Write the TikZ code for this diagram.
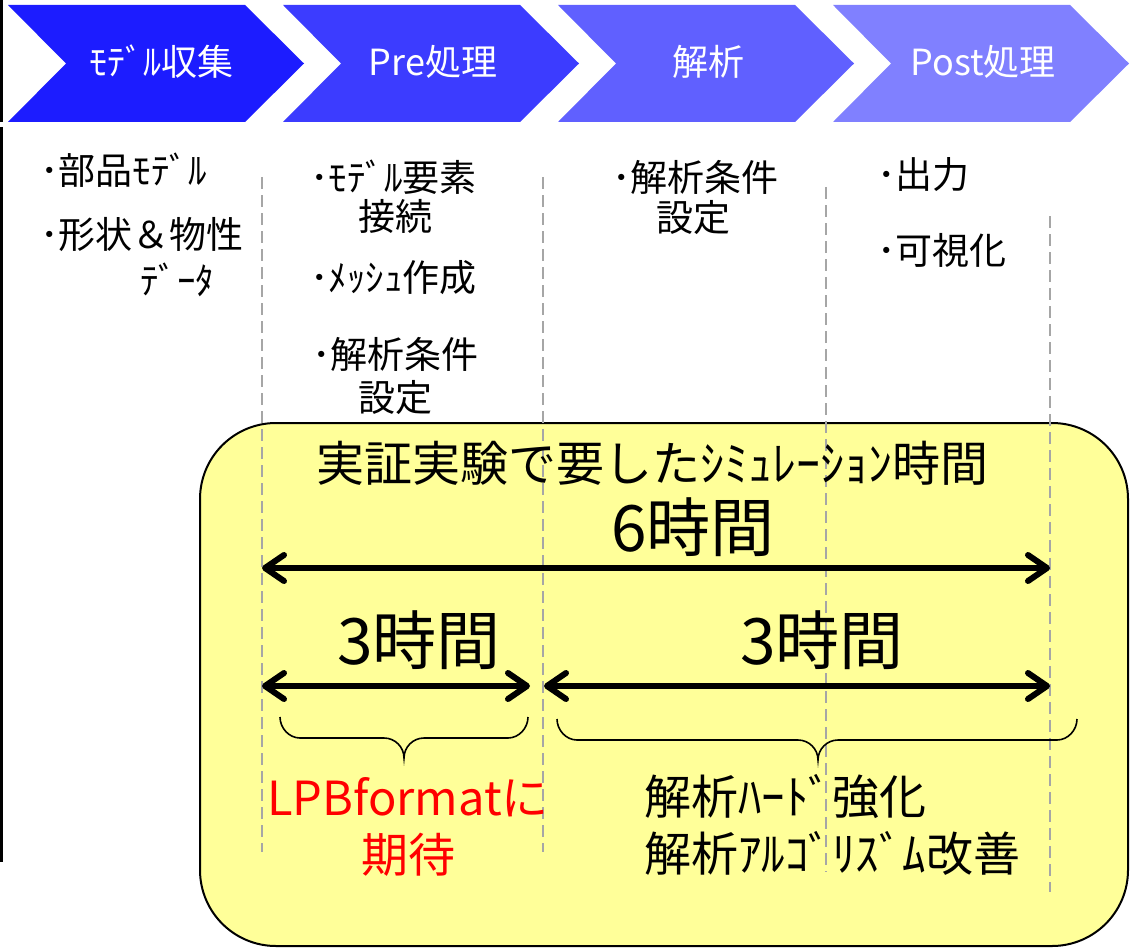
\documentclass[tikz,border=0pt]{standalone}
\usepackage{fontspec}
\setmainfont{Noto Sans CJK JP}
\usetikzlibrary{arrows.meta}
\definecolor{chevA}{HTML}{1C1CFF}
\definecolor{chevB}{HTML}{3C3CFF}
\definecolor{chevC}{HTML}{6060FF}
\definecolor{chevD}{HTML}{8080FF}
\definecolor{boxyellow}{HTML}{FFFF99}
\definecolor{guidegray}{HTML}{A6A6A6}
\tikzset{
  chevtext/.style={text=white, inner sep=0pt, font=\fontsize{36}{40}\selectfont},
  itemtext/.style={inner sep=0pt, anchor=west, font=\fontsize{37}{42}\selectfont},
  bigtext/.style={inner sep=0pt, font=\fontsize{64}{70}\selectfont},
  midtext/.style={inner sep=0pt, font=\fontsize{47}{52}\selectfont},
  guide/.style={draw=guidegray, line width=1.5pt, dash pattern=on 12pt off 6pt},
  dimarrow/.style={line width=6pt, {Straight Barb[length=19pt,width=26pt,round]}-{Straight Barb[length=19pt,width=26pt,round]}},
  bracepath/.style={line width=1.6pt},
}
\newcommand{\chevron}[2]{%
  \fill[#2] (#1,5) -- (#1+237,5) -- (#1+296,63.5) -- (#1+237,122) -- (#1,122) -- (#1+58,63.5) -- cycle;}
\begin{document}
\begin{tikzpicture}[x=1pt,y=-1pt]
\useasboundingbox (0,0) rectangle (1134,952);
% left border line
\draw[line width=3pt] (1.5,0) -- (1.5,122);
\draw[line width=3pt] (1.5,127) -- (1.5,862);
% chevrons
\chevron{8}{chevA}
\chevron{283}{chevB}
\chevron{558}{chevC}
\chevron{833}{chevD}
\node[chevtext] (c1) at (161,62) {ﾓﾃﾞﾙ収集};
\node[chevtext] (c2) at (433,62) {Pre処理};
\node[chevtext] (c3) at (708,62) {解析};
\node[chevtext] (c4) at (983,62) {Post処理};
% items
\node[itemtext] (i1) at (40,170) {･部品ﾓﾃﾞﾙ};
\node[itemtext] (i2) at (40,235) {･形状＆物性};
\node[itemtext] (i3) at (140,280) {ﾃﾞｰﾀ};
\node[itemtext] (p1) at (310,177) {･ﾓﾃﾞﾙ要素};
\node[itemtext] (p1b) at (358,216) {接続};
\node[itemtext] (p2) at (310,278) {･ﾒｯｼｭ作成};
\node[itemtext] (p3) at (312,354) {･解析条件};
\node[itemtext] (p3b) at (358,398) {設定};
\node[itemtext] (a1) at (612,177) {･解析条件};
\node[itemtext] (a1b) at (656,218) {設定};
\node[itemtext] (o1) at (877,175) {･出力};
\node[itemtext] (o2) at (877,250) {･可視化};
% yellow box
\draw[fill=boxyellow, line width=2pt, rounded corners=76pt] (200,423) rectangle (1128,946);
% guide lines
\draw[guide] (262,177) -- (262,852);
\draw[guide] (543,177) -- (543,852);
\draw[guide] (826,187) -- (826,872);
\draw[guide] (1050,216) -- (1050,892);
% texts in box
\node[inner sep=0pt, font=\fontsize{48}{52}\selectfont] (title) at (652,463) {実証実験で要したｼﾐｭﾚｰｼｮﾝ時間};
\node[bigtext] (six) at (693,527) {6時間};
\node[bigtext] (threeL) at (419,640) {3時間};
\node[bigtext] (threeR) at (822,640) {3時間};
% arrows
\coordinate (a1l) at (262,568);
\coordinate (a1r) at (1050,568);
\coordinate (a2l) at (262,686);
\coordinate (a2r) at (530,686);
\coordinate (a3l) at (544,686);
\coordinate (a3r) at (1050,686);
\draw[dimarrow] (a1l) -- (a1r);
\draw[dimarrow] (a2l) -- (a2r);
\draw[dimarrow] (a3l) -- (a3r);
% braces
\draw[bracepath] (280,717) .. controls (280,728) and (289,738) .. (300,738) -- (384,738)
  .. controls (395,738) and (404,747) .. (404,758)
  .. controls (404,747) and (413,738) .. (424,738) -- (508,738)
  .. controls (519,738) and (528,728) .. (528,717);
\draw[bracepath] (557,719) .. controls (557,730) and (566,740) .. (577,740) -- (798,740)
  .. controls (809,740) and (818,749) .. (818,760)
  .. controls (818,749) and (827,740) .. (838,740) -- (1057,740)
  .. controls (1068,740) and (1077,730) .. (1077,719);
% bottom texts
\node[midtext, text=red] (lpb) at (408,797) {LPBformatに};
\node[midtext, text=red] (kitai) at (408,855) {期待};
\node[midtext, anchor=west] (hard) at (644,797) {解析ﾊｰﾄﾞ強化};
\node[midtext, anchor=west] (algo) at (644,853) {解析ｱﾙｺﾞﾘｽﾞﾑ改善};
\end{tikzpicture}
\end{document}
